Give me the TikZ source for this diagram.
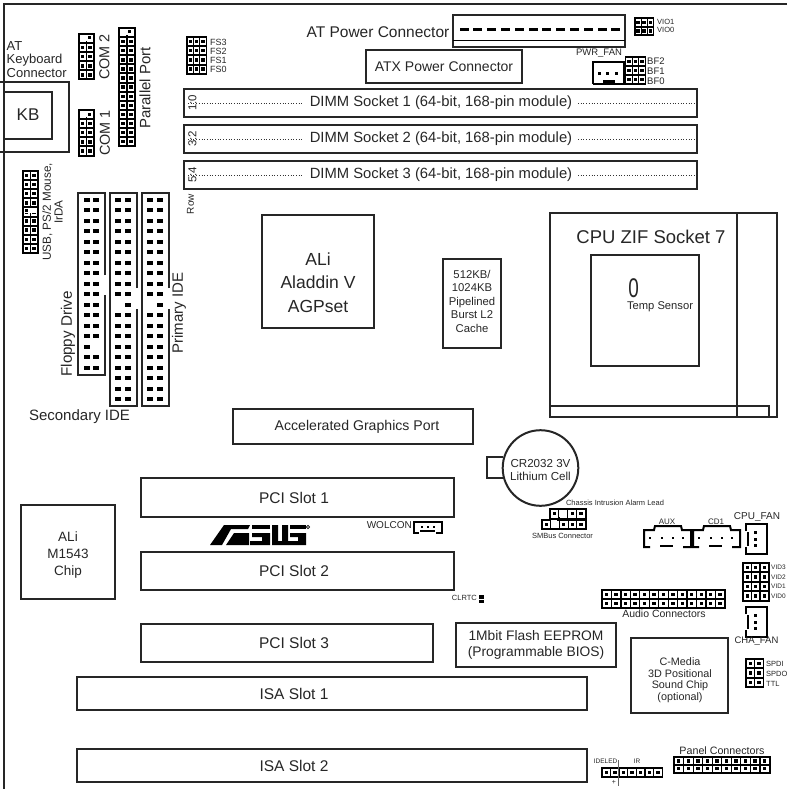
\documentclass[tikz,border=0pt]{standalone}
\usepackage{fontspec}
\setmainfont{Liberation Sans}
\usetikzlibrary{positioning}

\newcommand{\fsz}[1]{\fontsize{#1}{#1}\selectfont}
% x, y, columns, rows, x pitch, y pitch
\newcommand{\pinblock}[6]{%
\fill[black] (#1,#2) rectangle ({#1+#3*#5+2},{#2+#4*#6+2});
\foreach \r in {1,...,#4} {
\foreach \c in {1,...,#3} {
\fill[white] ({#1+1+(\c-1)*#5+0.6},{#2+1+(\r-1)*#6+1}) rectangle ++({#5-1.2},{#6-2});
\fill[black] ({#1+1+(\c-0.5)*#5-1.7},{#2+1+(\r-0.5)*#6-1.7}) rectangle ++(3.4,3.4);
}
}
}
% horizontal four pin header
\newcommand{\auxhead}[2]{%
\draw[thickline] (#1+6,#2+21) -- (#1,#2+21) -- (#1,#2+4) -- (#1+10,#2+4) -- (#1+11,#2) -- (#1+37,#2) -- (#1+38,#2+4) -- (#1+47,#2+4) -- (#1+47,#2+21) -- (#1+39,#2+21);
\draw[thickline] (#1+16,#2+20) -- (#1+29,#2+20);
\foreach \x in {6,18,29,39} {
\fill (#1+\x-1.4,#2+10.6) rectangle ++(2.8,2.8);
}
}
% vertical three pin header
\newcommand{\fanhead}[2]{%
\draw[medline] (#1+1,#2+8) -- (#1+1,#2+1) -- (#1+22,#2+1) -- (#1+22,#2+31) -- (#1+1,#2+31) -- (#1+1,#2+24);
\draw[thickline] (#1+3,#2+9) -- (#1+3,#2+23);
\foreach \y in {8,14.5,21} {
\fill (#1+9,#2+\y) rectangle ++(3.4,3.4);
}
}

\tikzset{
boardline/.style={line width=2pt,black!85},
boxline/.style={line width=2pt,black!85},
thinbox/.style={line width=1.5pt,black!85},
medline/.style={line width=1.5pt,black},
thickline/.style={line width=2pt,black},
dimmdots/.style={line width=0.7pt,dotted,black!80},
lab/.style={inner sep=0pt,text=black!85},
}

\begin{document}
\begin{tikzpicture}[x=1pt,y=-1pt]
\useasboundingbox (0,0) rectangle (787,789);
% board outline
\draw[boardline] (787,4) -- (4,4) -- (4,789);

% keyboard
\draw[boxline] (0,82) -- (69,82) -- (69,152) -- (0,152);
\draw[boxline] (4,92) -- (52,92) -- (52,139) -- (4,139);
\node[lab,font=\fsz{17}] (kb) at (28,115) {KB};
\node[lab,font=\fsz{13},align=left,anchor=north west] (kbtext) at (6.5,41) {AT\\[0.6pt]Keyboard\\[0.6pt]Connector};

% headers along the left
\pinblock{78}{33}{2}{5}{7.4}{9.1}
\fill[white] (79.5,35) rectangle (93,41);
\fill[black] (88,36.5) rectangle ++(3,3);
\pinblock{78}{109}{2}{5}{7.4}{9.1}
\fill[white] (79.5,111) rectangle (93,117);
\fill[black] (88,113) rectangle ++(3,3);
\pinblock{118}{27}{2}{13}{8}{9.1}
\fill[white] (120,29) rectangle (134,35);
\fill[black] (128,30.5) rectangle ++(3,3);
\pinblock{22}{170}{2}{9}{7.4}{9.1}
\fill[white] (23.5,208) rectangle (37,213);
\fill[black] (24.5,208.5) rectangle ++(3,3);
\node[lab,font=\fsz{14.4},rotate=90] (com2) at (104.5,57) {COM 2};
\node[lab,font=\fsz{14.4},rotate=90] (com1) at (105,133) {COM 1};
\node[lab,font=\fsz{15},rotate=90] (parport) at (145,88) {Parallel Port};
\node[lab,font=\fsz{11.7},rotate=90,align=center] (usb) at (52.5,212) {USB, PS/2 Mouse,\\[0.2pt]IrDA};

% frequency jumpers
\pinblock{186}{36}{3}{4}{6.4}{9.2}
\foreach \n/\y in {FS3/42,FS2/51,FS1/60,FS0/69.5} {
\node[lab,font=\fsz{9},anchor=west] (\n) at (210,\y) {\n};
}
\pinblock{634}{17}{3}{2}{6.1}{8.7}
\foreach \n/\y in {VIO1/22,VIO0/30} {
\node[lab,font=\fsz{7.5},anchor=west] (\n) at (657,\y) {\n};
}
\pinblock{624.5}{56}{3}{3}{6.6}{8.9}
\foreach \n/\y in {BF2/61.5,BF1/71.5,BF0/81} {
\node[lab,font=\fsz{9.5},anchor=west] (\n) at (647,\y) {\n};
}

% power
\draw[boxline] (453,15) rectangle (625,47);
\draw[medline] (453,40.5) -- (625,40.5);
\foreach \i in {0,1,...,11} {
\fill (459.5+\i*13.8,28.5) rectangle ++(9,3);
}
\node[lab,font=\fsz{15.5},anchor=east] (atpower) at (449.5,32) {AT Power Connector};
\draw[boxline] (366,50) rectangle node[lab,font=\fsz{14}] (atx) {ATX Power Connector} (522,83);
\node[lab,font=\fsz{9.5}] (pwrfan) at (599,53.5) {PWR\_FAN};
\draw[thickline] (593,84) -- (593,62) -- (624,62) -- (624,84) -- (593,84);
\fill (603,80.5) rectangle (615,84);
\foreach \x in {598,606.3,614.6} {
\fill (\x,72.5) rectangle ++(3,3);
}

% memory
\foreach \n/\t/\y in {1/1:0/89,2/3:2/125,3/5:4/161} {
\draw[boxline] (184,\y) rectangle (697,\y+28);
\draw[dimmdots] (188,\y+14) -- (304,\y+14);
\draw[dimmdots] (578,\y+14) -- (696,\y+14);
\node[lab,font=\fsz{11.5},rotate=90] (row\n) at (192.5,\y+14) {\t};
\node[lab,font=\fsz{14.8}] (dimm\n) at (441,\y+14) {DIMM Socket \n\ (64-bit, 168-pin module)};
}
\node[lab,font=\fsz{10},rotate=90] (rowtext) at (190.5,204) {Row};

% drive headers
\draw[boxline] (105,275) -- (105,193) -- (78,193) -- (78,375) -- (105,375) -- (105,295);
\foreach \y in {0,1,...,16} {
\fill (83.5,{197.5+\y*10.5}) rectangle ++(6,4);
\ifnum\y=14\else
\fill (93,{197.5+\y*10.5}) rectangle ++(6,4);
\fi
}
\foreach \x in {110,142} {
\draw[boxline] (\x+27,288) -- (\x+27,193) -- (\x,193) -- (\x,406) -- (\x+27,406) -- (\x+27,309);
\foreach \y in {0,1,...,19} {
\ifnum\y=10\else
\fill (\x+5,{197.5+\y*10.5}) rectangle ++(6,4);
\fi
\fill (\x+15,{197.5+\y*10.5}) rectangle ++(6,4);
}
}
\node[lab,font=\fsz{15.2},rotate=90] (floppy) at (68,334) {Floppy Drive};
\node[lab,font=\fsz{15},rotate=90] (primary) at (179,313) {Primary IDE};
\node[lab,font=\fsz{15}] (secondary) at (79.5,417) {Secondary IDE};

% chipset and cache
\draw[boxline] (262,215) rectangle (374,328);
\node[lab,font=\fsz{17.5},align=center] (aladdin) at (318,282.5) {ALi\\[6pt]Aladdin V\\[6pt]AGPset};
\draw[boxline] (443,259) rectangle (501,348);
\node[lab,font=\fsz{11.3},align=center] (cache) at (472,301) {512KB/\\[2.2pt]1024KB\\[2.2pt]Pipelined\\[2.2pt]Burst L2\\[2.2pt]Cache};

% cpu
\draw[boxline] (550,213) rectangle (777,417);
\draw[boxline] (737,213) -- (737,417);
\draw[thinbox] (550,406) -- (769,406) -- (769,417);
\draw[thinbox] (591,255) rectangle (699,366);
\node[lab,font=\fsz{18.5}] (cpu) at (651,237) {CPU ZIF Socket 7};
\node[lab,font=\fsz{27},xscale=0.7] (sensorsym) at (633.5,288) {0};
\node[lab,font=\fsz{11.2}] (sensor) at (660,307) {Temp Sensor};

% slots
\draw[boxline] (233,409) rectangle (473,444);
\node[lab,font=\fsz{14.1}] (agp) at (357,426.5) {Accelerated Graphics Port};
\foreach \n/\t/\x/\y/\w/\h in {pci1/PCI Slot 1/141/478/313/39,pci2/PCI Slot 2/141/552/313/38,pci3/PCI Slot 3/141/624/292/38,isa1/ISA Slot 1/77/677/510/33,isa2/ISA Slot 2/77/749/510/33} {
\draw[boxline] (\x,\y) rectangle ++(\w,\h);
\node[lab,font=\fsz{15.5}] (\n) at (294,\y+\h/2) {\t};
}

% battery
\draw[boxline] (503,457) -- (487,457) -- (487,478) -- (503,478);
\draw[boxline] (540.5,468) circle (37.8);
\node[lab,font=\fsz{11.6},align=center] (cell) at (540.5,470) {CR2032 3V\\[1.6pt]Lithium Cell};

% other chips
\draw[boxline] (21,505) rectangle (115,599);
\node[lab,font=\fsz{13.5},align=center] (m1543) at (68,555) {ALi\\[3.5pt]M1543\\[3.5pt]Chip};
\draw[boxline] (456,623) rectangle (616,667);
\node[lab,font=\fsz{13.8},align=center] (flash) at (536,645) {1Mbit Flash EEPROM\\[1.5pt](Programmable BIOS)};
\draw[boxline] (631,638) rectangle (728,713);
\node[lab,font=\fsz{10.8},align=center] (cmedia) at (680,680) {C-Media\\[0.7pt]3D Positional\\[0.7pt]Sound Chip\\[0.7pt](optional)};

% logo
\fill (210,545) -- (224,525) -- (250,525) -- (248,529) -- (231,529) -- (222,545) -- cycle;
\fill (226,545) -- (234,533) -- (249,533) -- (249,545) -- cycle;
\fill (252,525) -- (270,525) -- (270,529) -- (252,529) -- cycle;
\fill (252,533) -- (270,533) -- (270,545) -- (250,545) -- (250,541) -- (262,541) -- (262,537) -- (252,537) -- cycle;
\fill (272,525) -- (278,525) -- (278,541) -- (282,541) -- (282,525) -- (288,525) -- (288,545) -- (272,545) -- cycle;
\fill (290,525) -- (306,525) -- (306,529) -- (290,529) -- cycle;
\fill (290,533) -- (306,533) -- (306,545) -- (288,545) -- (288,541) -- (298,541) -- (298,537) -- (290,537) -- cycle;
\draw[line width=0.6pt] (308,527) circle (1.6);

% small headers
\node[lab,font=\fsz{10},anchor=east] (wolcon) at (412,525) {WOLCON};
\draw[thickline] (414,533) -- (414,522) -- (442,522) -- (442,533);
\fill (413,532) rectangle (419,534);
\fill (436,532) rectangle (443,534);
\fill (420,530) rectangle (435,532);
\foreach \x in {420.5,426.5,432.5} {
\fill (\x,525.5) rectangle ++(2.8,2.8);
}
\node[lab,font=\fsz{7.5},anchor=east] (clrtc) at (477,598) {CLRTC};
\fill (479,595) rectangle (484,598.5);
\fill (479,599.5) rectangle (484,603);

\node[lab,font=\fsz{7.5}] (chassis) at (615,503) {Chassis Intrusion Alarm Lead};
\pinblock{549}{508}{4}{1}{8.9}{9.5}
\pinblock{541}{518.5}{5}{1}{8.7}{9.5}
\fill[white] (558.5,510) rectangle (565,517);
\fill[white] (551,520) rectangle (557,527);
\node[lab,font=\fsz{7.5}] (smbus) at (562.5,536) {SMBus Connector};

\auxhead{644}{526}
\auxhead{693}{526}
\node[lab,font=\fsz{8}] (aux) at (667,522) {AUX};
\node[lab,font=\fsz{8}] (cd1) at (716,522) {CD1};
\fanhead{745}{523}
\node[lab,font=\fsz{10}] (cpufan) at (757,517) {CPU\_FAN};
\pinblock{742}{562}{3}{4}{8.5}{9.4}
\foreach \n/\y in {VID3/567,VID2/577,VID1/586.5,VID0/596} {
\node[lab,font=\fsz{6.5},anchor=west] (\n) at (771,\y) {\n};
}
\pinblock{601}{589}{13}{2}{9.45}{8.8}
\node[lab,font=\fsz{10.5}] (audio) at (664,614) {Audio Connectors};
\fanhead{745}{606}
\node[lab,font=\fsz{9.5}] (chafan) at (756.5,641.5) {CHA\_FAN};
\pinblock{745}{658}{2}{3}{8.7}{9.4}
\foreach \n/\y in {SPDI/664,SPDO/674,TTL/684} {
\node[lab,font=\fsz{7.5},anchor=west] (\n) at (766,\y) {\n};
}
\pinblock{673}{756}{10}{2}{9.55}{7.8}
\node[lab,font=\fsz{10.7}] (panel) at (722,751) {Panel Connectors};
\pinblock{601}{767}{7}{1}{8.6}{9}
\draw[line width=0.6pt,black!60] (618.5,760) -- (618.5,786);
\node[lab,font=\fsz{6.5},anchor=east] (ideled) at (617.5,761) {IDELED};
\node[lab,font=\fsz{6.5}] (ir) at (637,761) {IR};
\node[lab,font=\fsz{7}] (plus) at (614,782) {+};
\end{tikzpicture}
\end{document}
